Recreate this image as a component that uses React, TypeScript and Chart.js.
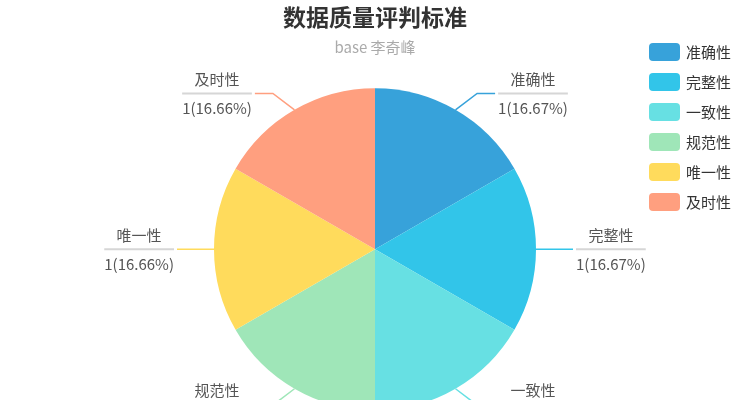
import React, { useEffect, useRef } from "react";
import { Chart, registerables } from "chart.js";

Chart.register(...registerables);

const titleText = "数据质量评判标准";
const subtitleText = "base 李奇峰";
const labels = ["准确性", "完整性", "一致性", "规范性", "唯一性", "及时性"];
const values = [1, 1, 1, 1, 1, 1];
const colors = ["#37A2DA", "#32C5E9", "#67E0E3", "#9FE6B8", "#FFDB5C", "#FF9F7F"];

const FONT = '"Noto Sans CJK SC", "Noto Sans", sans-serif';

// percentages like echarts: largest remainder, 2 digits
function percents(vals: number[], digits: number) {
    const sum = vals.reduce((a, b) => a + b, 0);
    const scale = Math.pow(10, digits);
    const raw = vals.map((v) => (v / sum) * 100 * scale);
    const floors = raw.map((r) => Math.floor(r));
    const left = 100 * scale - floors.reduce((a, b) => a + b, 0);
    const order = raw
        .map((r, i) => ({ i, rem: r - floors[i] }))
        .sort((a, b) => b.rem - a.rem);
    for (let k = 0; k < left; k++) floors[order[k].i]++;
    return floors.map((f) => (f / scale).toFixed(digits));
}

const pcts = percents(values, 2);

const pieLabels = {
    id: "pieLabels",
    afterDatasetsDraw(chart: any) {
        const ctx = chart.ctx;
        const meta = chart.getDatasetMeta(0);
        const L1 = 19;
        const L2 = 18;
        meta.data.forEach((arc: any, i: number) => {
            const { x, y, startAngle, endAngle, outerRadius } = arc.getProps(
                ["x", "y", "startAngle", "endAngle", "outerRadius"],
                true
            );
            const mid = (startAngle + endAngle) / 2;
            const cos = Math.cos(mid);
            const sin = Math.sin(mid);
            const side = cos >= -1e-6 ? 1 : -1;
            const p0x = x + cos * outerRadius;
            const p0y = y + sin * outerRadius;
            const p1x = x + cos * (outerRadius + L1) + side * 14 * Math.abs(sin);
            const p1y = y + sin * (outerRadius + L1);
            const p2x = p1x + side * L2;

            ctx.save();
            ctx.strokeStyle = colors[i];
            ctx.lineWidth = 1.5;
            ctx.beginPath();
            ctx.moveTo(p0x, p0y);
            ctx.lineTo(p1x, p1y);
            ctx.lineTo(p2x, p1y);
            ctx.stroke();

            const name = labels[i];
            const val = `${values[i]}(${pcts[i]}%)`;
            ctx.font = `15px ${FONT}`;
            const w = Math.max(ctx.measureText(name).width, ctx.measureText(val).width);
            const lx = side > 0 ? p2x + 3 : p2x - 3 - w;

            ctx.strokeStyle = "#d6d6d6";
            ctx.lineWidth = 2;
            ctx.beginPath();
            ctx.moveTo(lx, p1y);
            ctx.lineTo(lx + w, p1y);
            ctx.stroke();

            ctx.fillStyle = "#555";
            ctx.textAlign = "center";
            ctx.textBaseline = "middle";
            ctx.fillText(name, lx + w / 2, p1y - 14.5);
            ctx.fillText(val, lx + w / 2, p1y + 14.5);
            ctx.restore();
        });
    },
};

const sideLegend = {
    id: "sideLegend",
    afterDraw(chart: any) {
        const ctx = chart.ctx;
        const ds = chart.data.datasets[0];
        ctx.save();
        chart.data.labels.forEach((label: string, i: number) => {
            const top = 43 + i * 30;
            ctx.fillStyle = ds.backgroundColor[i];
            ctx.beginPath();
            ctx.roundRect(649, top, 31, 18, 4);
            ctx.fill();
            ctx.fillStyle = "#333";
            ctx.font = `15px ${FONT}`;
            ctx.textAlign = "left";
            ctx.textBaseline = "middle";
            ctx.fillText(label, 686, top + 9.5);
        });
        ctx.restore();
    },
};

export default function App() {
    const canvas = useRef<HTMLCanvasElement>(null);

    useEffect(() => {
        Chart.defaults.font.family = FONT;
        const chart = new Chart(canvas.current!, {
            type: "pie",
            data: {
                labels: labels,
                datasets: [
                    {
                        data: values,
                        backgroundColor: colors,
                        borderWidth: 0,
                    },
                ],
            },
            options: {
                responsive: true,
                maintainAspectRatio: false,
                animation: false,
                radius: 161,
                layout: { padding: 0 },
                plugins: {
                    legend: { display: false },
                    tooltip: { enabled: false },
                    title: {
                        display: true,
                        text: titleText,
                        color: "#333",
                        font: { size: 23, weight: "bold", family: FONT },
                        padding: { top: 3, bottom: 6 },
                    },
                    subtitle: {
                        display: true,
                        text: subtitleText,
                        color: "#aaa",
                        font: { size: 15, family: FONT },
                        padding: { top: 2, bottom: 0 },
                    },
                },
            } as any,
            plugins: [pieLabels, sideLegend],
        });

        // Destroy the chart when the component unmounts
        return () => {
            chart.destroy();
        };
    }, []);

    return (
        <div style={{ position: "fixed", left: 0, top: 0, width: 750, height: 400, overflow: "hidden", background: "#fff" }}>
            <div style={{ position: "relative", width: 750, height: 442 }}>
                <canvas ref={canvas}></canvas>
            </div>
        </div>
    );
}
